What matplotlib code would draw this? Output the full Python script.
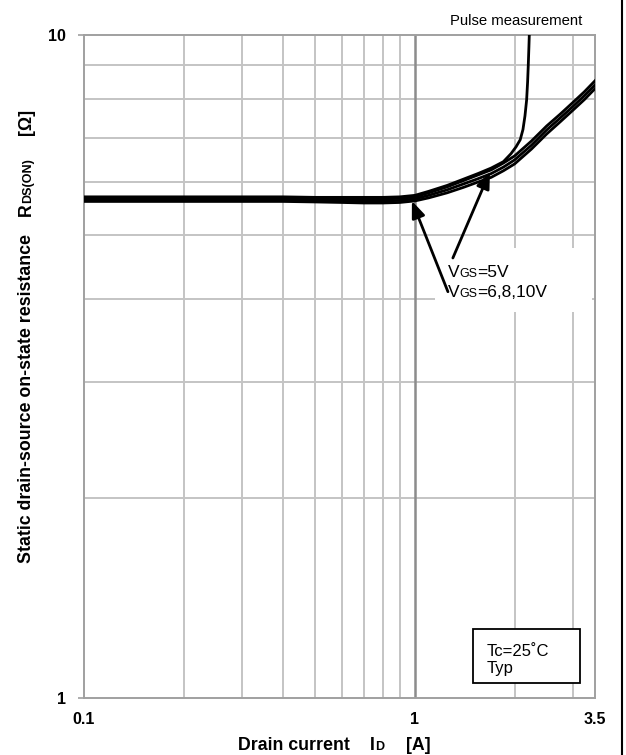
import matplotlib.pyplot as plt
from matplotlib.lines import Line2D
from matplotlib.patches import Rectangle

plt.rcParams['font.family'] = ['Liberation Sans', 'DejaVu Sans']

# drain current [A] and on-state resistance [ohm], read per gate voltage
i_band = [0.1, 0.2, 0.3, 0.4, 0.5, 0.6, 0.7, 0.8, 0.9, 1.0, 1.1, 1.25, 1.4,
          1.55, 1.7, 1.85, 2.0, 2.25, 2.5, 2.75, 3.0, 3.25, 3.5, 3.7]
r_6v = [5.67, 5.67, 5.67, 5.67, 5.66, 5.66, 5.66, 5.66, 5.67, 5.70, 5.78, 5.90,
        6.03, 6.15, 6.26, 6.41, 6.57, 6.92, 7.29, 7.60, 7.91, 8.21, 8.53, 8.78]
r_8v = [5.64, 5.64, 5.64, 5.64, 5.63, 5.62, 5.62, 5.62, 5.63, 5.66, 5.73, 5.84,
        5.96, 6.07, 6.18, 6.32, 6.48, 6.82, 7.19, 7.50, 7.80, 8.10, 8.41, 8.66]
r_10v = [5.61, 5.61, 5.61, 5.61, 5.60, 5.59, 5.58, 5.58, 5.59, 5.62, 5.68, 5.78,
         5.89, 6.00, 6.10, 6.24, 6.39, 6.73, 7.09, 7.40, 7.70, 7.99, 8.30, 8.54]

i_5v = [0.1, 0.2, 0.3, 0.4, 0.5, 0.6, 0.7, 0.8, 0.9, 1.0, 1.1, 1.25, 1.4, 1.55,
        1.7, 1.85, 1.95, 2.02, 2.08, 2.12, 2.15, 2.175, 2.19, 2.20, 2.21, 2.22]
r_5v = [5.70, 5.70, 5.70, 5.70, 5.69, 5.69, 5.69, 5.69, 5.70, 5.73, 5.81, 5.93,
        6.06, 6.18, 6.30, 6.44, 6.62, 6.78, 6.95, 7.20, 7.55, 7.98, 8.50, 9.00,
        9.60, 10.3]

x_ticks = [0.1, 1, 3.5]
x_ticklabels = ['0.1', '1', '3.5']
y_ticks = [1, 10]
y_ticklabels = ['1', '10']
x_grid = [0.2, 0.3, 0.4, 0.5, 0.6, 0.7, 0.8, 0.9, 2, 3]
y_grid = [2, 3, 4, 5, 6, 7, 8, 9]

W, H = 626, 755
fig = plt.figure(figsize=(W / 100, H / 100), dpi=100)
ax = fig.add_axes([84 / W, 1 - 698 / H, (595 - 84) / W, (698 - 35) / H])
ax.set_xscale('log')
ax.set_yscale('log')
ax.set_xlim(0.1, 3.5)
ax.set_ylim(1, 10)

# grid
for x in x_grid:
    ax.axvline(x, color='#c4c4c4', lw=1.4, zorder=1)
for y in y_grid:
    ax.axhline(y, color='#c4c4c4', lw=1.4, zorder=1)
ax.axvline(1, color='#8c8c8c', lw=1.8, zorder=1)

for s in ax.spines.values():
    s.set_color('#a0a0a0')
    s.set_linewidth(1.4)

ax.set_xticks(x_ticks)
ax.set_xticklabels(x_ticklabels)
ax.set_yticks(y_ticks)
ax.set_yticklabels(y_ticklabels)
ax.minorticks_off()
ax.tick_params(axis='x', length=0, pad=10, labelsize=11.5)
ax.tick_params(axis='y', length=4, width=1.2, color='#a0a0a0', pad=9, labelsize=11.5)
for lab in ax.get_xticklabels() + ax.get_yticklabels():
    lab.set_fontweight('bold')

# curves
for r in (r_6v, r_8v, r_10v):
    ax.plot(i_band, r, color='black', lw=2.0, zorder=3)
ax.plot(i_5v, r_5v, color='black', lw=2.0, zorder=3)

# white patch behind the VGS labels
ax.add_patch(Rectangle((1.15, 3.82), 3.43 - 1.15, 4.77 - 3.82,
                       facecolor='white', edgecolor='none', zorder=2))

arrow = dict(arrowstyle='-|>,head_length=1.0,head_width=0.4', color='black',
             lw=2.0, shrinkA=0, shrinkB=0)
ax.annotate('', xy=(0.979, 5.62), xytext=(1.258, 4.10), arrowprops=arrow, zorder=4)
ax.annotate('', xy=(1.685, 6.22), xytext=(1.302, 4.61), arrowprops=arrow, zorder=4)

# Tc box
ax.add_patch(Rectangle((1.497, 1.053), 3.15 - 1.497, 1.27 - 1.053,
                       facecolor='white', edgecolor='black', lw=1.3, zorder=4))

fig.canvas.draw()
renderer = fig.canvas.get_renderer()


def runs(x, y, parts, rot=0, weight='normal'):
    # draw text pieces of different sizes on one baseline, x/y in image pixels
    yb = H - y
    for txt, size, gap in parts:
        if rot == 0:
            x += gap
        else:
            yb += gap
        t = fig.text(x / W, yb / H, txt, fontsize=size, fontweight=weight,
                     rotation=rot, rotation_mode='anchor', ha='left',
                     va='baseline', zorder=5)
        bb = t.get_window_extent(renderer)
        if rot == 0:
            x += bb.width
        else:
            yb += bb.height


runs(448, 277, [('V', 12.5, 0), ('GS', 9, 0), ('=5V', 12.5, 0)])
runs(448, 297, [('V', 12.5, 0), ('GS', 9, 0), ('=6,8,10V', 12.5, 0)])
runs(487, 656, [('Tc=25˚C', 12, 0)])
runs(487, 673, [('Typ', 12, 0)])

fig.text(582 / W, 1 - 25 / H, 'Pulse measurement', fontsize=10.7,
         ha='right', va='baseline')

# axis titles
runs(238, 750, [('Drain current', 12.8, 0), ('I', 12.8, 20), ('D', 9, 0),
                ('[A]', 12.8, 22)], weight='bold')
runs(31, 563, [('Static drain-source on-state resistance', 12.8, 0),
               ('R', 12.8, 18), ('DS(ON)', 9, 0), ('[Ω]', 12.8, 23)],
     rot=90, weight='bold')

# frame line on the right edge
fig.add_artist(Line2D([622 / W, 622 / W], [0, 1], color='black', lw=1.5,
                      transform=fig.transFigure))

fig.savefig('out.png', dpi=100)
